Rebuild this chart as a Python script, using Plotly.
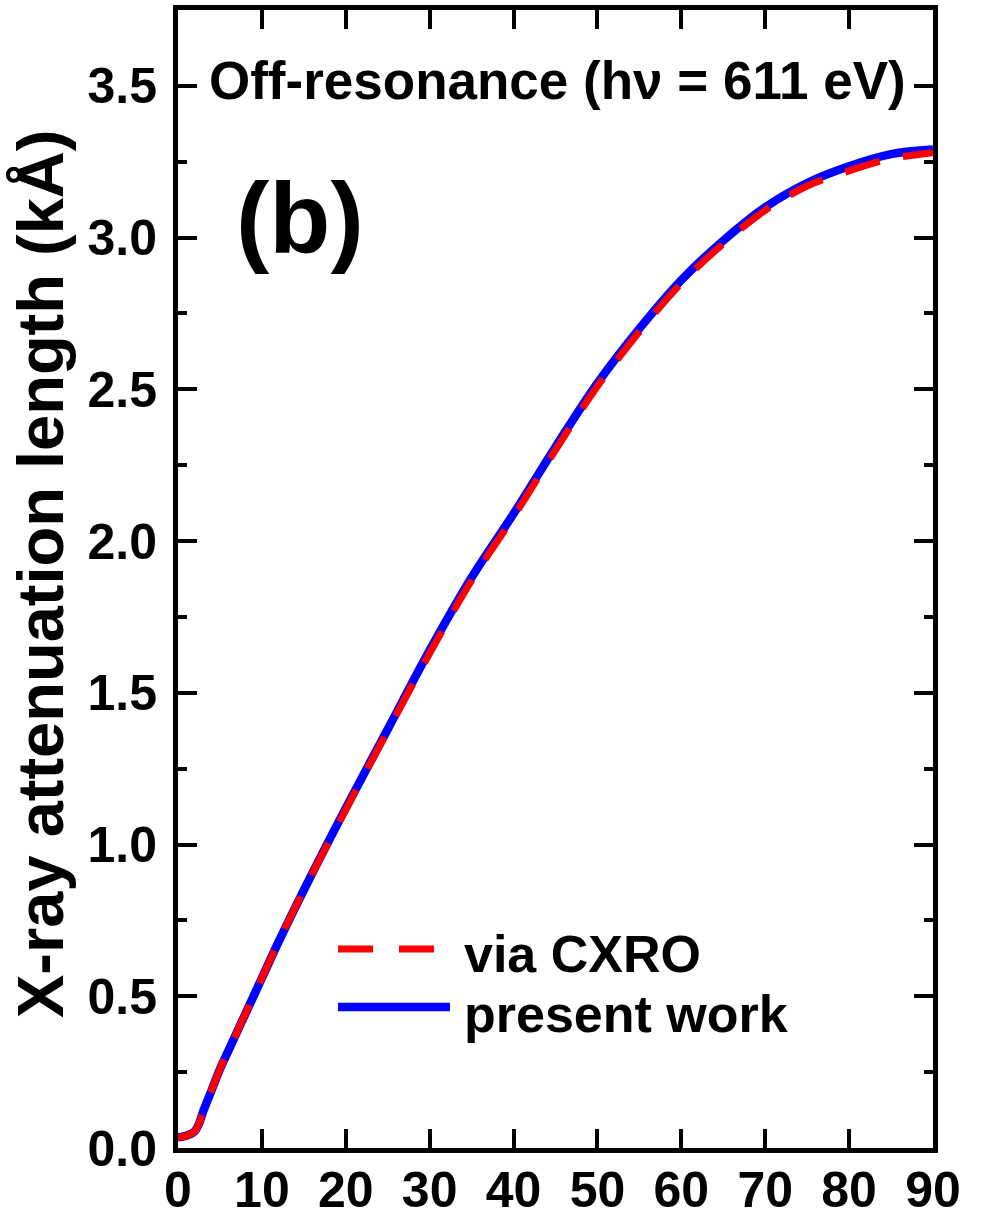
import plotly.graph_objects as go

# Data
angle = [0, 1, 2, 2.5, 3, 4, 5, 6, 8, 10, 12, 15, 20, 25, 30, 35, 40, 45,
         50, 55, 60, 65, 70, 75, 80, 85, 90]
present_work = [0.035, 0.04, 0.055, 0.08, 0.12, 0.19, 0.26, 0.32, 0.44, 0.56,
                0.68, 0.85, 1.12, 1.38, 1.64, 1.88, 2.09, 2.31, 2.52, 2.70,
                2.86, 2.99, 3.10, 3.18, 3.235, 3.275, 3.29]
via_cxro = [0.035, 0.04, 0.055, 0.08, 0.12, 0.19, 0.26, 0.32, 0.44, 0.56,
            0.68, 0.85, 1.115, 1.375, 1.63, 1.87, 2.08, 2.30, 2.51, 2.69,
            2.85, 2.98, 3.09, 3.17, 3.22, 3.26, 3.28]

x_ticks = [0, 10, 20, 30, 40, 50, 60, 70, 80, 90]
y_ticks = [0.0, 0.5, 1.0, 1.5, 2.0, 2.5, 3.0, 3.5]

names = ["via CXRO", "present work"]
y_title = "X-ray attenuation length (kÅ)"
FONT = "Liberation Sans, Arial, Helvetica, sans-serif"

W, H = 981, 1219
ML, MR, MT, MB = 178, 48, 10, 71
PW, PH = W - ML - MR, H - MT - MB
BOTTOM = H - MB


def px(xp):
    return (xp - ML) / PW


def py(yp):
    return (BOTTOM - yp) / PH


fig = go.Figure()
fig.add_trace(go.Scatter(x=angle, y=present_work, mode="lines", name=names[1],
                         line=dict(color="#0000FF", width=8.5, shape="spline"),
                         showlegend=False))
fig.add_trace(go.Scatter(x=angle, y=via_cxro, mode="lines", name=names[0],
                         line=dict(color="#FF0000", width=7, shape="spline",
                                   dash="36px,24px"),
                         showlegend=False))

# manual legend (long line samples)
fig.add_shape(type="line", xref="paper", yref="paper", x0=px(338), x1=px(435),
              y0=py(949), y1=py(949),
              line=dict(color="#FF0000", width=7, dash="35px,26px"))
fig.add_shape(type="line", xref="paper", yref="paper", x0=px(338), x1=px(450),
              y0=py(1007), y1=py(1007),
              line=dict(color="#0000FF", width=8.5))
for nm, ypix in [(names[0], 954), (names[1], 1014)]:
    fig.add_annotation(x=px(462), y=py(ypix),
                       xref="paper", yref="paper", text=nm, showarrow=False,
                       xanchor="left", yanchor="middle",
                       font=dict(size=52, family=FONT, color="black", weight="bold"))

fig.add_annotation(x=px(557), y=py(80), xref="paper", yref="paper",
                   text="Off-resonance (hν = 611 eV)", showarrow=False,
                   xanchor="center", yanchor="middle",
                   font=dict(size=53, family=FONT, color="black", weight="bold"))
fig.add_annotation(x=px(300), y=py(218), xref="paper", yref="paper",
                   text="(b)", showarrow=False, xanchor="center", yanchor="middle",
                   font=dict(size=100, family=FONT, color="black", weight="bold"))
# y-axis title
fig.add_annotation(x=px(40), y=py(574), xref="paper", yref="paper",
                   text=y_title, showarrow=False, textangle=-90,
                   xanchor="center", yanchor="middle",
                   font=dict(size=65, family=FONT, color="black", weight="bold"))

fig.update_layout(
    width=W, height=H,
    margin=dict(l=ML, r=MR, t=MT, b=MB, autoexpand=False),
    paper_bgcolor="white", plot_bgcolor="white",
    font=dict(family=FONT, size=50, color="black", weight="bold"),
    showlegend=False,
)
fig.update_xaxes(range=[0, 90], tickvals=x_ticks, ticktext=[str(v) for v in x_ticks],
                 ticks="inside", ticklen=19, tickwidth=4, tickcolor="black",
                 showline=True, linewidth=5, linecolor="black", mirror="ticks",
                 showgrid=False, zeroline=False, automargin=False,
                 ticklabelstandoff=-6,
                 tickfont=dict(size=50, family=FONT, weight="bold"))
fig.update_yaxes(range=[0, 3.75], tickvals=y_ticks, ticktext=[f"{v:.1f}" for v in y_ticks],
                 ticks="inside", ticklen=19, tickwidth=4, tickcolor="black",
                 showline=True, linewidth=5, linecolor="black", mirror="ticks",
                 showgrid=False, zeroline=False, automargin=False,
                 ticklabelstandoff=6,
                 minor=dict(dtick=0.25, tick0=0, ticks="inside", ticklen=9, tickwidth=4,
                            tickcolor="black", showgrid=False),
                 tickfont=dict(size=50, family=FONT, weight="bold"))

fig.write_html("out.html")
